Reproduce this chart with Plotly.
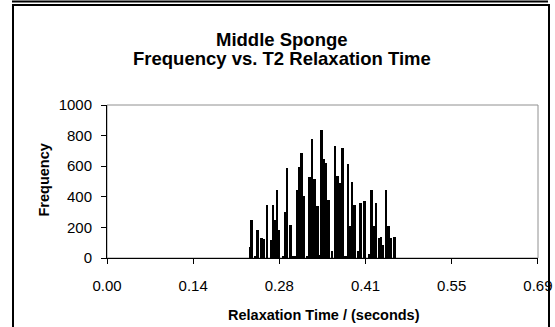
import plotly.graph_objects as go

relax_time = [0.2289, 0.2318, 0.2369, 0.2413, 0.2477, 0.2513, 0.2561, 0.2630, 0.2658, 0.2690,
              0.2722, 0.2754, 0.2829, 0.2855, 0.2882, 0.2938, 0.2973, 0.3010, 0.3042, 0.3082,
              0.3111, 0.3151, 0.3213, 0.3239, 0.3282, 0.3322, 0.3373, 0.3405, 0.3431, 0.3474,
              0.3506, 0.3549, 0.3602, 0.3650, 0.3693, 0.3730, 0.3773, 0.3818, 0.3858, 0.3890,
              0.3922, 0.3966, 0.4018, 0.4058, 0.4122, 0.4206, 0.4234, 0.4266, 0.4307, 0.4355,
              0.4387, 0.4419, 0.4467, 0.4507, 0.4539, 0.4606]
frequency = [70, 247, 12, 182, 131, 125, 346, 120, 346, 247,
             444, 182, 15, 299, 588, 215, 15, 10, 447, 592,
             686, 402, 15, 532, 776, 514, 339, 20, 835, 645,
             623, 378, 43, 732, 536, 489, 721, 15, 612, 212,
             496, 346, 43, 357, 374, 25, 444, 212, 357, 131,
             138, 88, 444, 208, 131, 138]

x_tickvals = [0, 0.138, 0.276, 0.414, 0.552, 0.69]
x_ticktext = ["0.00", "0.14", "0.28", "0.41", "0.55", "0.69"]
y_tickvals = [0, 200, 400, 600, 800, 1000]

FONT = "Liberation Sans, Arial, sans-serif"

fig = go.Figure()
fig.add_trace(go.Bar(x=relax_time, y=frequency, width=0.0042,
                     marker=dict(color="black", line=dict(width=0)), showlegend=False))

L, R, T, B = 107, 17, 105, 69
W, H = 555, 327
pw, ph = W - L - R, H - T - B

def px(x):
    return (x - L) / pw

def py(y):
    return (H - B - y) / ph

fig.update_layout(
    template="none",
    width=W, height=H, autosize=False,
    margin=dict(l=L, r=R, t=T, b=B, pad=0, autoexpand=False),
    paper_bgcolor="white", plot_bgcolor="white",
    font=dict(family=FONT, size=15, color="black"),
    bargap=0,
    xaxis=dict(range=[0, 0.6902], tickvals=x_tickvals, ticktext=x_ticktext, automargin=False,
               showgrid=False, zeroline=False, showline=True, linecolor="black", linewidth=1,
               ticks="outside", ticklen=5, tickcolor="black", ticklabelstandoff=9,
               tickfont=dict(size=15, family=FONT)),
    yaxis=dict(range=[0, 1000], tickvals=y_tickvals, automargin=False,
               showgrid=False, zeroline=False, showline=True, linecolor="black", linewidth=1,
               ticks="outside", ticklen=5, tickcolor="black", ticklabelstandoff=6,
               tickfont=dict(size=15, family=FONT)),
    shapes=[
        dict(type="rect", xref="paper", yref="paper", x0=0, x1=1, y0=0, y1=1,
             line=dict(color="#909090", width=1), layer="below"),
        dict(type="rect", xref="paper", yref="paper", x0=px(13), x1=px(549), y0=py(335), y1=py(5),
             line=dict(color="black", width=2)),
        dict(type="line", xref="paper", yref="paper", x0=px(12), x1=px(548), y0=py(1.5), y1=py(1.5),
             line=dict(color="black", width=2)),
    ],
    annotations=[
        dict(text="<b>Middle Sponge</b>", xref="paper", yref="paper", x=px(282), y=py(39),
             showarrow=False, font=dict(size=18.5, family=FONT), xanchor="center", yanchor="middle"),
        dict(text="<b>Frequency vs. T2 Relaxation Time</b>", xref="paper", yref="paper",
             x=px(282), y=py(59), showarrow=False, font=dict(size=18.5, family=FONT),
             xanchor="center", yanchor="middle"),
        dict(text="<b>Frequency</b>", xref="paper", yref="paper", x=px(43), y=py(180.5),
             textangle=-90, showarrow=False, font=dict(size=14.5, family=FONT),
             xanchor="center", yanchor="middle"),
        dict(text="<b>Relaxation Time / (seconds)</b>", xref="paper", yref="paper",
             x=px(323.5), y=py(314.7), showarrow=False, font=dict(size=14.5, family=FONT),
             xanchor="center", yanchor="middle"),
    ],
)

fig.write_html("out.html")
